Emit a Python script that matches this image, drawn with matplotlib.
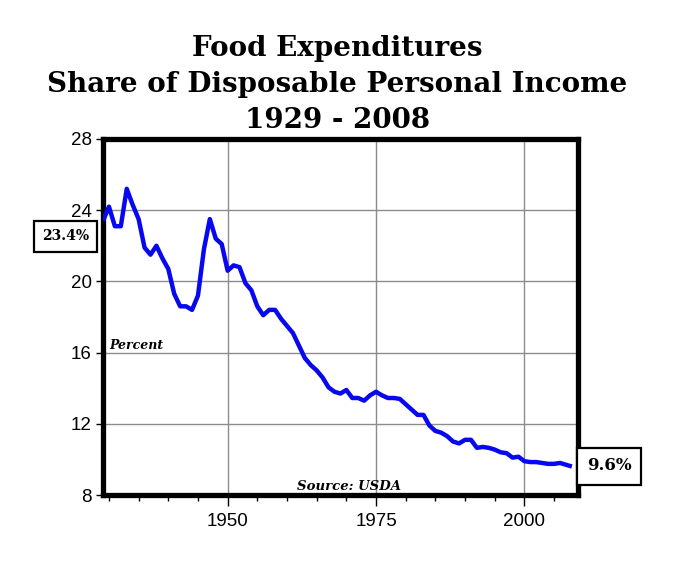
import matplotlib
matplotlib.use("Agg")
import matplotlib.pyplot as plt
from matplotlib.ticker import MultipleLocator

# Food expenditures as share of disposable personal income (%)
years = list(range(1929, 2009))
share = [23.4, 24.2, 23.1, 23.1, 25.2, 24.3, 23.5, 21.9, 21.5, 22.0,
         21.3, 20.7, 19.3, 18.6, 18.6, 18.4, 19.2, 21.8, 23.5, 22.4,
         22.1, 20.6, 20.9, 20.8, 19.9, 19.5, 18.6, 18.1, 18.4, 18.4,
         17.9, 17.5, 17.1, 16.4, 15.7, 15.3, 15.0, 14.6, 14.05, 13.8,
         13.7, 13.9, 13.45, 13.45, 13.3, 13.6, 13.8, 13.6, 13.45, 13.45,
         13.4, 13.1, 12.8, 12.5, 12.5, 11.9, 11.6, 11.5, 11.3, 11.0,
         10.9, 11.1, 11.1, 10.65, 10.7, 10.65, 10.55, 10.4, 10.35, 10.1,
         10.15, 9.9, 9.85, 9.85, 9.8, 9.75, 9.75, 9.8, 9.7, 9.6]

title_lines = ["Food Expenditures", "Share of Disposable Personal Income", "1929 - 2008"]
y_ticks = [8, 12, 16, 20, 24, 28]
x_major = [1950, 1975, 2000]
first_label = "23.4%"
last_label = "9.6%"

fig = plt.figure(figsize=(6.75, 5.62), dpi=100)
ax = fig.add_axes([0.1526, 0.1192, 0.7034, 0.6335])

ax.plot(years, share, color="#0808f0", lw=3.2, solid_capstyle="butt", zorder=3)

ax.set_xlim(1929, 2009)
ax.set_ylim(8, 28)
ax.set_yticks(y_ticks)
ax.set_xticks(x_major)
ax.xaxis.set_minor_locator(MultipleLocator(5))
ax.grid(True, which="major", color="#8c8c8c", lw=1.0)

for s in ax.spines.values():
    s.set_linewidth(3.8)
    s.set_color("black")

ax.tick_params(axis="y", which="major", length=5, width=1, pad=3,
               labelsize=13.5, labelfontfamily="Liberation Sans")
ax.tick_params(axis="x", which="major", length=8, width=1, pad=5,
               labelsize=13.5, labelfontfamily="Liberation Sans")
ax.tick_params(axis="x", which="minor", length=4, width=1)

# title, one line at a time
title_y = [48, 85, 120]
for line, ty in zip(title_lines, title_y):
    fig.text(0.5, 1 - ty / 562, line, ha="center", va="center",
             fontsize=20, fontweight="bold", family="DejaVu Serif")

ax.text(1930, 16.2, "Percent", fontsize=9, fontweight="bold", style="italic",
        family="DejaVu Serif", ha="left", va="baseline")
ax.text(1970.5, 8.3, "Source: USDA", fontsize=9.5, fontweight="bold", style="italic",
        family="DejaVu Serif", ha="center", va="baseline")

box = dict(boxstyle="square,pad=0.6", fc="white", ec="black", lw=1.6)
fig.text(65.5 / 675, 1 - 236.5 / 562, first_label, ha="center", va="center",
         fontsize=10, fontweight="bold", family="DejaVu Serif", bbox=box)
fig.text(609 / 675, 1 - 466 / 562, last_label, ha="center", va="center",
         fontsize=12, fontweight="bold", family="DejaVu Serif", bbox=box)

fig.savefig("out.png", dpi=100, facecolor="white")
